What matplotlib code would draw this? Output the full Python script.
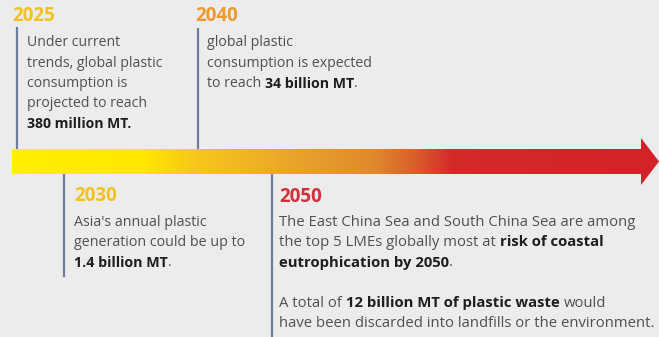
import matplotlib.pyplot as plt
import numpy as np
from matplotlib.colors import LinearSegmentedColormap
from matplotlib.patches import Polygon

# timeline content
years = ['2025', '2040', '2030', '2050']
year_colors = ['#f2c21e', '#ec9a2c', '#f2c21e', '#d0313a']
notes = [
    [[('Under current', False)],
     [('trends, global plastic', False)],
     [('consumption is', False)],
     [('projected to reach', False)],
     [('380 million MT.', True)]],
    [[('global plastic', False)],
     [('consumption is expected', False)],
     [('to reach', False), ('34 billion MT', True), ('.', False)]],
    [[("Asia's annual plastic", False)],
     [('generation could be up to', False)],
     [('1.4 billion MT', True), ('.', False)]],
    [[('The East China Sea and South China Sea are among', False)],
     [('the top 5 LMEs globally most at', False), ('risk of coastal', True)],
     [('eutrophication by 2050', True), ('.', False)],
     [],
     [('A total of', False), ('12 billion MT of plastic waste', True), ('would', False)],
     [('have been discarded into landfills or the environment.', False)]],
]

W, H = 659, 337
fig = plt.figure(figsize=(W / 100, H / 100), dpi=100)
fig.patch.set_facecolor('#ececec')
ax = fig.add_axes([0, 0, 1, 1])
ax.set_xlim(0, W)
ax.set_ylim(H, 0)
ax.axis('off')
ax.set_facecolor('#ececec')

# gradient arrow
cmap = LinearSegmentedColormap.from_list('arr', [
    (0.0, '#fff000'), (0.2, '#ffe800'), (0.28, '#f6c81a'),
    (0.45, '#e8a02c'), (0.56, '#e08a2e'), (0.63, '#d85a2a'),
    (0.68, '#d42a2a'), (1.0, '#d32228')])
grad = np.linspace(0, 1, 512).reshape(1, -1)
im = ax.imshow(grad, cmap=cmap, extent=[12, W, 186, 137], aspect='auto', zorder=1)
arrow = Polygon([[12, 149], [641, 149], [641, 138], [W, 161.5], [641, 185],
                 [641, 174], [12, 174]], closed=True, transform=ax.transData)
im.set_clip_path(arrow)

# connector lines
line_c = '#6f7d9c'
ax.plot([17, 17], [28, 149], color=line_c, lw=1.6, zorder=0)
ax.plot([198, 198], [29, 149], color=line_c, lw=1.6, zorder=0)
ax.plot([64, 64], [174, 276], color=line_c, lw=1.6, zorder=0)
ax.plot([272, 272], [174, H], color=line_c, lw=1.6, zorder=0)

fig.canvas.draw()
rend = fig.canvas.get_renderer()
font = 'Open Sans'


def width(s, bold, size):
    t = ax.text(0, 0, s, fontsize=size, family=font,
                fontweight='bold' if bold else 'normal')
    w = t.get_window_extent(rend).width
    t.remove()
    return w


def draw_lines(x0, y0, lines, size, step=20.3):
    sp = width('x x', False, size) - width('xx', False, size)
    for i, parts in enumerate(lines):
        x = x0
        y = y0 + i * step
        for j, (s, bold) in enumerate(parts):
            if j > 0 and s != '.':
                x += sp
            t = ax.text(x, y, s, fontsize=size, family=font, va='center',
                        color='#1e1e1e' if bold else '#505050',
                        fontweight='bold' if bold else 'normal')
            x += t.get_window_extent(rend).width


head_pos = [(12, 16), (195, 16), (74, 196), (279, 197)]
body_pos = [(27, 43), (207, 43), (74, 222), (279, 222)]
body_size = [10.1, 10.2, 10.3, 10.7]
for yr, col, (hx, hy), (bx, by), lines, sz in zip(years, year_colors, head_pos,
                                                   body_pos, notes, body_size):
    ax.text(hx, hy, yr, fontsize=13.5, family=font, fontweight='bold',
            color=col, va='center')
    draw_lines(bx, by, lines, sz)

fig.savefig('out.png', dpi=100, facecolor=fig.get_facecolor())
